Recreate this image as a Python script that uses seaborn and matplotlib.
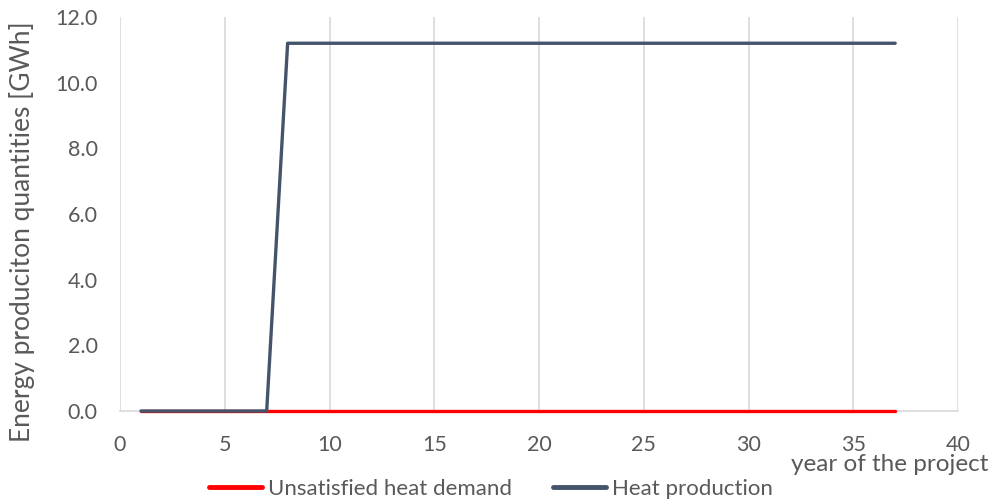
import pandas as pd
import numpy as np
import matplotlib.pyplot as plt
import seaborn as sns
from matplotlib.lines import Line2D

# Data
years = list(range(1, 38))
unsatisfied_demand = [0.0] * 37
heat_production = [0.0] * 7 + [11.2] * 30

df = pd.DataFrame({
    'year': years * 2,
    'value': unsatisfied_demand + heat_production,
    'series': ['Unsatisfied heat demand'] * 37 + ['Heat production'] * 37,
})

sns.set_style('white')
plt.rcParams['font.family'] = ['Lato', 'DejaVu Sans']

fig = plt.figure(figsize=(9.97, 5.04), dpi=100)
ax = fig.add_axes([0.1204, 0.1845, 0.8405, 0.7818])

palette = {'Unsatisfied heat demand': '#ff0000', 'Heat production': '#44546a'}
sns.lineplot(data=df, x='year', y='value', hue='series', palette=palette,
             linewidth=2.4, ax=ax, legend=False)
for ln in ax.lines:
    ln.set_clip_on(False)
    ln.set_zorder(3)

ax.set_xlim(0, 40)
ax.set_ylim(0, 12)
ax.set_xticks(range(0, 41, 5))
ax.set_yticks(np.arange(0, 12.1, 2))
ax.set_yticklabels([f'{v:.1f}' for v in np.arange(0, 12.1, 2)])
ax.grid(axis='x', color='#d9d9d9', linewidth=1.2)
ax.grid(axis='y', visible=False)
for s in ['top', 'right', 'left']:
    ax.spines[s].set_visible(False)
ax.spines['bottom'].set_color('#d9d9d9')
ax.spines['bottom'].set_linewidth(1.2)
ax.tick_params(colors='#595959', labelsize=15.5, length=0)
ax.tick_params(axis='y', pad=16)
ax.tick_params(axis='x', pad=17)

ax.set_ylabel('')
ax.set_xlabel('')
fig.text(0.022, 0.54, 'Energy produciton quantities [GWh]', rotation=90, ha='center', va='center',
         fontsize=19, color='#595959')
fig.text(0.991, 0.057, 'year of the project', ha='right', va='bottom', fontsize=17.5, color='#595959')

handles = [Line2D([], [], color=palette[k], linewidth=3.5, solid_capstyle='round') for k in palette]
fig.legend(handles, list(palette.keys()), loc='lower center', bbox_to_anchor=(0.492, -0.03),
           ncol=2, frameon=False, fontsize=16, labelcolor='#595959',
           handlelength=2.4, handletextpad=0.25, columnspacing=1.85)

fig.savefig('out.png', dpi=100)
